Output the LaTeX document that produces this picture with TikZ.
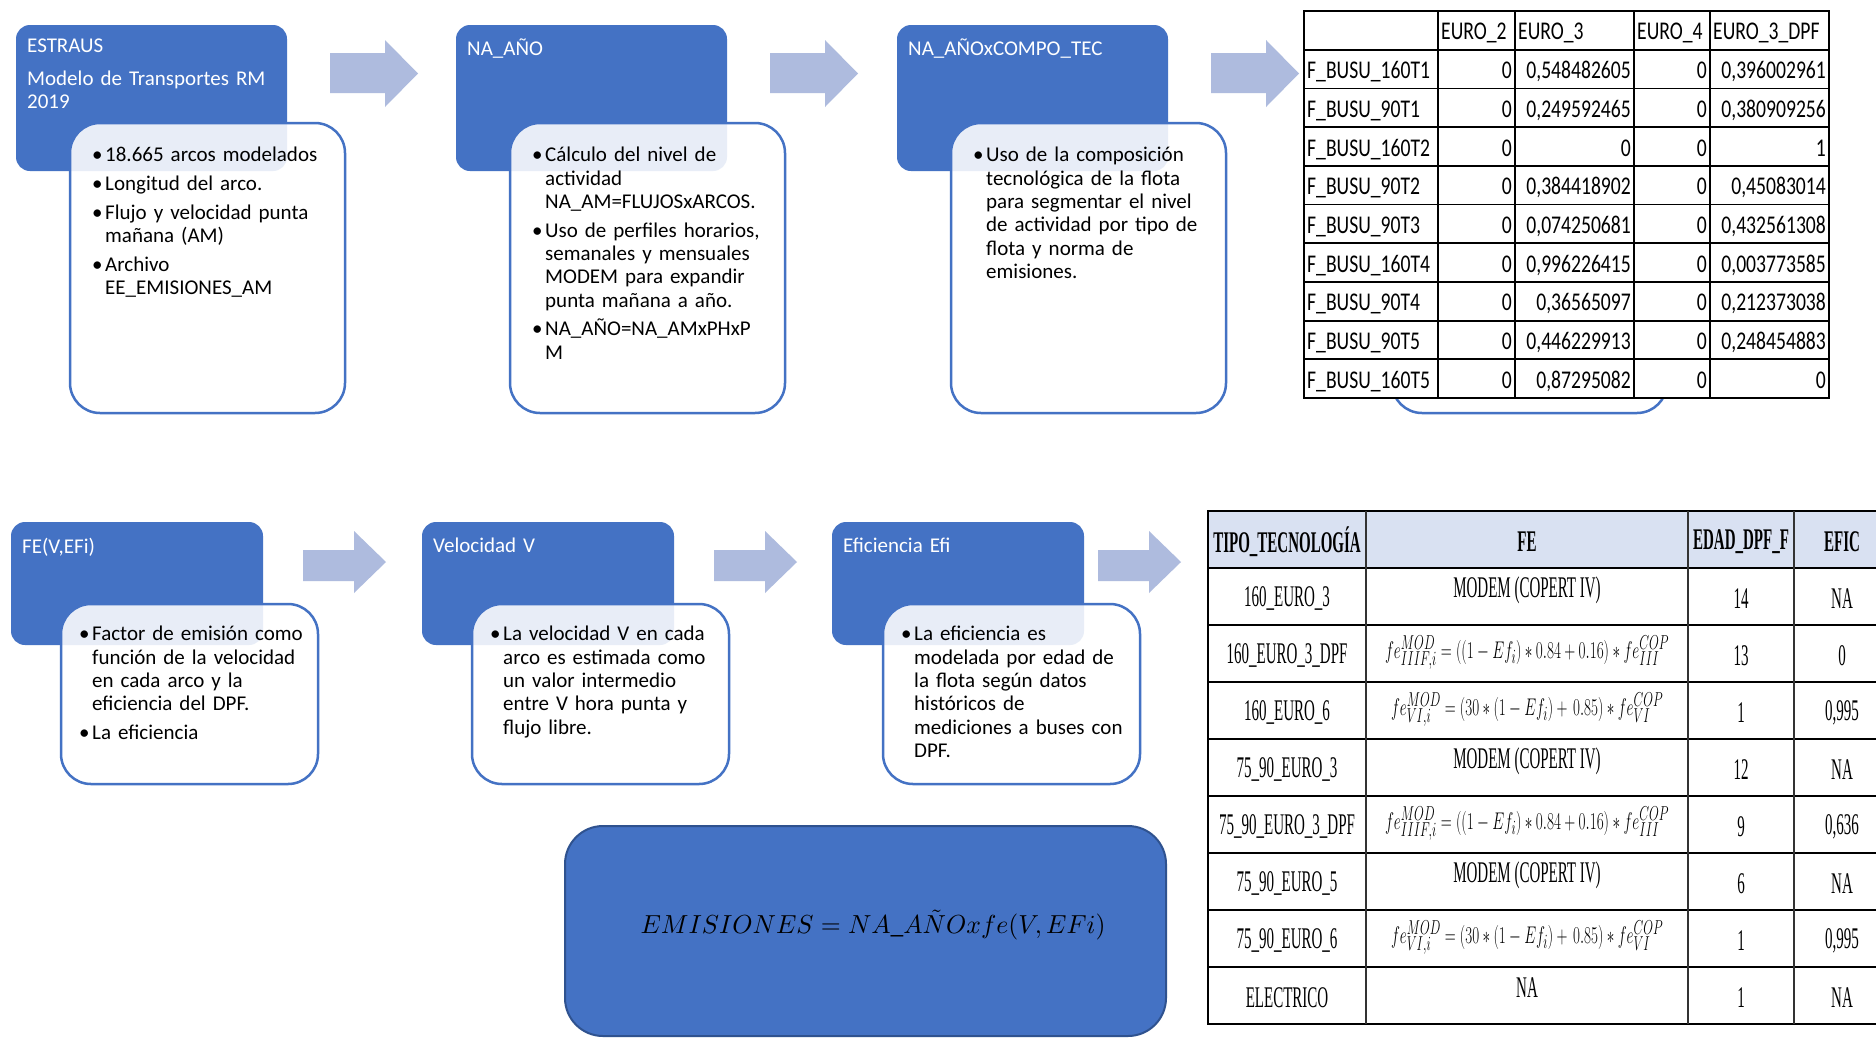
\documentclass[tikz,border=0pt]{standalone}
\usepackage{fontspec}
\setmainfont{Carlito}
\newfontfamily\tabfont[FakeStretch=0.77]{Carlito}
\newfontfamily\timesfont[FakeStretch=0.5]{Liberation Serif}
\usepackage{graphicx}
\usepackage{xcolor}
\definecolor{boxblue}{RGB}{68,114,196}
\definecolor{darkblue}{RGB}{47,82,143}
\definecolor{arrowblue}{RGB}{174,187,222}
\definecolor{headblue}{RGB}{217,225,242}
\usetikzlibrary{positioning,calc}
\newcommand{\bul}{\par\hangindent=13pt\hangafter=1\noindent\makebox[13pt][l]{\textbullet}}
\newcommand{\feA}{\resizebox*{284pt}{33pt}{$fe^{MOD}_{IIIF,i}=((1-Ef_i)\ast 0.84+0.16)\ast fe^{COP}_{III}$}}
\newcommand{\feB}{\resizebox*{272pt}{33pt}{$fe^{MOD}_{VI,i}=(30\ast(1-Ef_i)+\ 0.85)\ast fe^{COP}_{VI}$}}

\begin{document}
\begin{tikzpicture}[x=1pt,y=-1pt,
  bluebox/.style={fill=boxblue,rounded corners=14pt,inner sep=0pt,outer sep=0pt,anchor=north west},
  whitebox/.style={draw=boxblue,line width=2.5pt,fill=white,fill opacity=0.88,rounded corners=30pt,inner sep=0pt,outer sep=0pt,anchor=north west},
  topblue/.style={bluebox,minimum width=271pt,minimum height=146pt},
  topwhite/.style={whitebox,minimum width=275pt,minimum height=290pt},
  lowblue/.style={bluebox,minimum width=252pt,minimum height=123pt},
  lowwhite/.style={whitebox,minimum width=257pt,minimum height=180pt},
  boxtitle/.style={text=white,anchor=north west,inner sep=0pt,text width=255pt,align=left,font=\fontsize{21}{22.5}\selectfont\setlength{\parskip}{10.5pt}},
  boxtext/.style={anchor=north west,inner sep=0pt,text width=245pt,align=left,font=\fontsize{21}{23.3}\selectfont\setlength{\parskip}{5.4pt}},
  xcell/.style={inner sep=0pt,font=\tabfont\fontsize{25.5}{25.5}\selectfont},
  tcell/.style={inner sep=0pt,font=\timesfont\fontsize{30}{30}\selectfont}]
  \clip (0,0) rectangle (1876,1039);
  \fill[white] (0,0) rectangle (1876,1039);
  % fila superior
  \node[topblue] (ba) at (16,25) {};
  \node[topblue] (bb) at (456,25) {};
  \node[topblue] (bc) at (897,25) {};
  \node[topwhite] (wa) at (70,123) {};
  \node[topwhite] (wb) at (510,123) {};
  \node[topwhite] (wc) at (951,123) {};
  \node[topwhite] (wd) at (1392,123) {};
  \node[boxtitle] (ta) at ([shift={(11,14)}]ba.north west) {ESTRAUS\par Modelo de Transportes RM\newline 2019};
  \node[boxtitle] (tb) at ([shift={(11,14)}]bb.north west) {NA\_AÑO};
  \node[boxtitle] (tc) at ([shift={(11,14)}]bc.north west) {NA\_AÑOxCOMPO\_TEC};
  \node[boxtext] (xa) at ([shift={(22,10)}]wa.north west) {\bul 18.665 arcos modelados
    \bul Longitud del arco.
    \bul Flujo y velocidad punta\newline mañana (AM)
    \bul Archivo\newline EE\_EMISIONES\_AM\par};
  \node[boxtext] (xb) at ([shift={(22,10)}]wb.north west) {\bul Cálculo del nivel de\newline actividad\newline NA\_AM=FLUJOSxARCOS.
    \bul Uso de perfiles horarios,\newline semanales y mensuales\newline MODEM para expandir\newline punta mañana a año.
    \bul NA\_AÑO=NA\_AMxPHxP\newline M\par};
  \node[boxtext] (xc) at ([shift={(22,10)}]wc.north west) {\bul Uso de la composición\newline tecnológica de la flota\newline para segmentar el nivel\newline de actividad por tipo de\newline flota y norma de\newline emisiones.\par};
  % fila inferior
  \node[lowblue] (be) at (11,522) {};
  \node[lowblue] (bf) at (422,522) {};
  \node[lowblue] (bg) at (832,522) {};
  \node[lowwhite] (we) at (61,604) {};
  \node[lowwhite] (wf) at (472,604) {};
  \node[lowwhite] (wg) at (883,604) {};
  \node[boxtitle] (te) at ([shift={(11,16)}]be.north west) {FE(V,EFi)};
  \node[boxtitle] (tf) at ([shift={(11,16)}]bf.north west) {Velocidad V};
  \node[boxtitle] (tg) at ([shift={(11,16)}]bg.north west) {Eficiencia Efi};
  \node[boxtext] (xe) at ([shift={(18,8)}]we.north west) {\bul Factor de emisión como\newline función de la velocidad\newline en cada arco y la\newline eficiencia del DPF.
    \bul La eficiencia\par};
  \node[boxtext] (xf) at ([shift={(18,8)}]wf.north west) {\bul La velocidad V en cada\newline arco es estimada como\newline un valor intermedio\newline entre V hora punta y\newline flujo libre.\par};
  \node[boxtext] (xg) at ([shift={(18,8)}]wg.north west) {\bul La eficiencia es\newline modelada por edad de\newline la flota según datos\newline históricos de\newline mediciones a buses con\newline DPF.\par};
  % flechas
  \foreach \ax in {330,770,1211}
    \fill[arrowblue] (\ax,53) -- (\ax+55,53) -- (\ax+55,40) -- (\ax+88,73.5) -- (\ax+55,107) -- (\ax+55,93) -- (\ax,93) -- cycle;
  \foreach \ax in {303,714,1098}
    \fill[arrowblue] (\ax,550) -- (\ax+51,550) -- (\ax+51,531) -- (\ax+83,562) -- (\ax+51,593) -- (\ax+51,581) -- (\ax,581) -- cycle;
  % caja de emisiones
  \node[bluebox,draw=darkblue,line width=2pt,rounded corners=38pt,minimum width=601pt,minimum height=210pt] (em) at (565,826) {};
  \node (emt) at (873,925) {\resizebox{465pt}{24pt}{$EMISIONES=NA\_A\tilde{N}Oxfe(V,EFi)$}};
  % tabla composicion
  \fill[white] (1304,11) rectangle (1829,398);
  \foreach \xx/\lab [count=\i] in {1438/EURO\_2,1515/EURO\_3,1634/EURO\_4,1710/EURO\_3\_DPF}
    \node[xcell,anchor=base west] (hx\i) at (\xx+3,39) {\lab};
  \foreach \nm/\va/\vb/\vc/\vd [count=\i] in {
    F\_BUSU\_160T1/0/{0,548482605}/0/{0,396002961},
    F\_BUSU\_90T1/0/{0,249592465}/0/{0,380909256},
    F\_BUSU\_160T2/0/0/0/1,
    F\_BUSU\_90T2/0/{0,384418902}/0/{0,45083014},
    F\_BUSU\_90T3/0/{0,074250681}/0/{0,432561308},
    F\_BUSU\_160T4/0/{0,996226415}/0/{0,003773585},
    F\_BUSU\_90T4/0/{0,36565097}/0/{0,212373038},
    F\_BUSU\_90T5/0/{0,446229913}/0/{0,248454883},
    F\_BUSU\_160T5/0/{0,87295082}/0/0}{
    \node[xcell,anchor=base west] (fn\i) at (1307,11+38.7*\i+29) {\nm};
    \node[xcell,anchor=base east] (fa\i) at (1512,11+38.7*\i+29) {\va};
    \node[xcell,anchor=base east] (fb\i) at (1631,11+38.7*\i+29) {\vb};
    \node[xcell,anchor=base east] (fc\i) at (1707,11+38.7*\i+29) {\vc};
    \node[xcell,anchor=base east] (fd\i) at (1826,11+38.7*\i+29) {\vd};
  }
  \foreach \k in {0,...,10}
    \draw[line width=1.8pt,line cap=rect] (1304,11+38.7*\k) -- (1829,11+38.7*\k);
  \foreach \xx in {1304,1438,1515,1634,1710,1829}
    \draw[line width=1.8pt,line cap=rect] (\xx,11) -- (\xx,398);
  % tabla factores
  \fill[white] (1208,568) rectangle (1890,1024);
  \fill[headblue] (1208,511) rectangle (1890,568);
  \node[tcell,font=\timesfont\bfseries\fontsize{30}{30}\selectfont] (h1) at (1287,542) {TIPO\_TECNOLOGÍA};
  \node[tcell,font=\timesfont\bfseries\fontsize{30}{30}\selectfont] (h2) at (1527,542) {FE};
  \node[tcell,font=\timesfont\bfseries\fontsize{30}{30}\selectfont] (h3) at (1741,542) {EDAD\_DPF\_F};
  \node[tcell,font=\timesfont\bfseries\fontsize{30}{30}\selectfont] (h4) at (1842,542) {EFIC};
  \foreach \tec/\fe/\dy/\edad/\efic [count=\i] in {
    160\_EURO\_3/MODEM (COPERT IV)/-6/14/NA,
    160\_EURO\_3\_DPF/\feA/-1/13/0,
    160\_EURO\_6/\feB/-1/1/{0,995},
    75\_90\_EURO\_3/MODEM (COPERT IV)/-6/12/NA,
    75\_90\_EURO\_3\_DPF/\feA/-1/9/{0,636},
    75\_90\_EURO\_5/MODEM (COPERT IV)/-6/6/NA,
    75\_90\_EURO\_6/\feB/-1/1/{0,995},
    ELECTRICO/NA/-8/1/NA}{
    \node[tcell] (tt\i) at (1287,511+57*\i+30.5) {\tec};
    \node[tcell] (fe\i) at (1527,511+57*\i+28.5+\dy) {\fe};
    \node[tcell] (ed\i) at (1741,511+57*\i+30.5) {\edad};
    \node[tcell] (ef\i) at (1842,511+57*\i+30.5) {\efic};
  }
  \foreach \k in {0,...,9}
    \draw[line width=2.5pt] (1207,511+57*\k) -- (1890,511+57*\k);
  \draw[line width=2pt] (1208,511) -- (1208,1024);
  \foreach \xx in {1366,1688,1794}
    \draw[line width=1.2pt,black!80] (\xx,511) -- (\xx,1024);
\end{tikzpicture}
\end{document}
